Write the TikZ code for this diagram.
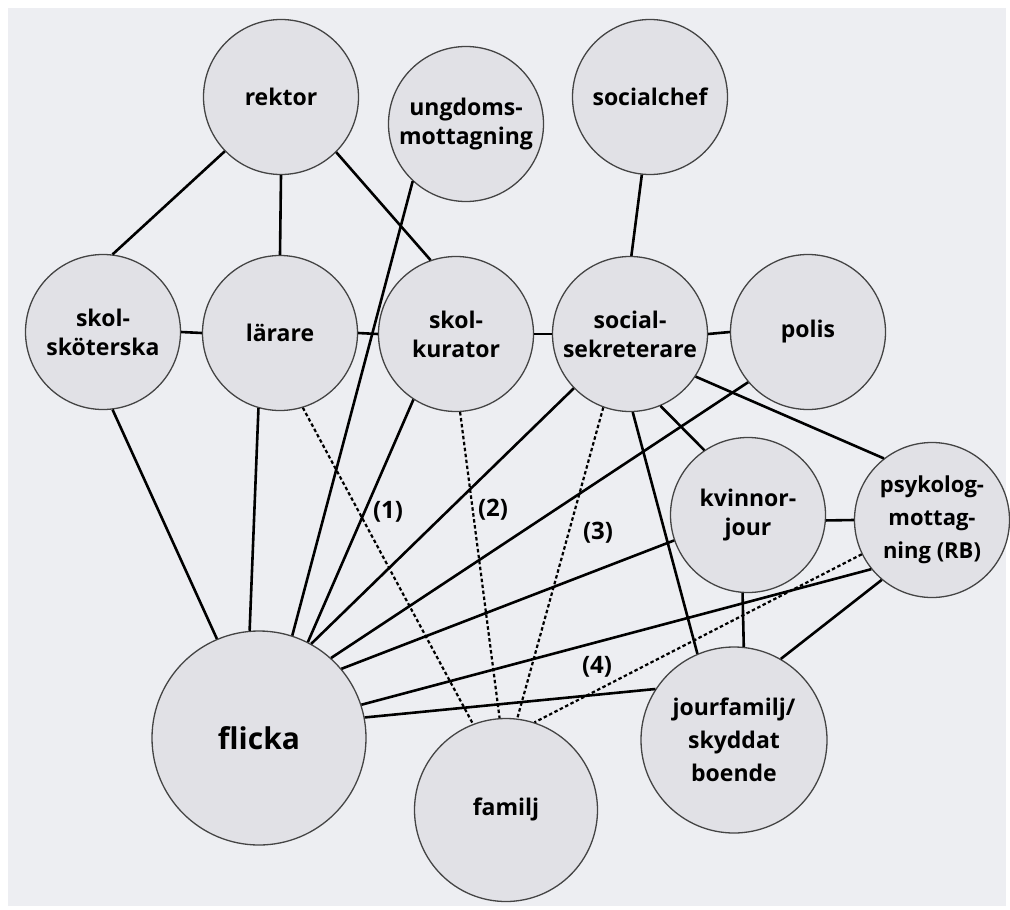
\documentclass[tikz,border=0pt]{standalone}
\usepackage{fontspec}
\setmainfont{Open Sans}
\definecolor{bgc}{HTML}{EDEEF2}
\definecolor{cfill}{HTML}{E1E1E6}
\definecolor{cline}{HTML}{444444}
\tikzset{
  org/.style={circle, draw=cline, line width=1.3pt, fill=cfill, inner sep=0pt,
    minimum size=#1, align=center, font=\bfseries\fontsize{23}{29}\selectfont},
  org/.default=155pt,
  tie/.style={line width=2.6pt, black},
  weak/.style={line width=2.2pt, black, dash pattern=on 3.5pt off 2.5pt},
  tag/.style={font=\bfseries\fontsize{24}{26}\selectfont, inner sep=0pt}
}
\begin{document}
\begin{tikzpicture}[x=1pt,y=-1pt]
\useasboundingbox (0,0) rectangle (1010,910);
\fill[white] (0,0) rectangle (1010,910);
\fill[bgc] (8,8) rectangle (1006,906);
% nodes
\node[org] (rek) at (281,97) {rektor};
\node[org] (ung) at (466,124) {ungdoms-\\mottagning};
\node[org] (soc) at (650,97) {socialchef};
\node[org] (sks) at (103,332) {skol-\\sköterska};
\node[org] (lar) at (280,333) {lärare};
\node[org] (kur) at (456,334) {skol-\\kurator};
\node[org] (sos) at (630,334) {social-\\sekreterare};
\node[org] (pol) at (808,332) {polis};
\node[org] (kvi) at (748,515) {kvinnor-\\jour};
\node[org, font=\bfseries\fontsize{22}{33}\selectfont] (psy) at (932,520) {psykolog-\\mottag-\\ning (RB)};
\node[org=186pt, font=\bfseries\fontsize{23}{33}\selectfont] (jou) at (734,740) {jourfamilj/\\skyddat\\boende};
\node[org=183pt] (fam) at (506,810) {\raisebox{6pt}{familj}};
\node[org=214pt, font=\bfseries\fontsize{30}{34}\selectfont] (fli) at (259,738) {flicka};
% solid ties
\draw[tie] (rek.224) -- (sks.83);
\draw[tie] (rek.270) -- (lar.90);
\draw[tie] (rek.315) -- (kur.109);
\draw[tie] (sks.0) -- (lar.180);
\draw[tie] (lar.0) -- (kur.180);
\draw[tie] (kur.0) -- (sos.180);
\draw[tie] (sos.0) -- (pol.180);
\draw[tie] (soc.264) -- (sos.89);
\draw[tie] (sks.277) -- (fli.113);
\draw[tie] (lar.254) -- (fli.95);
\draw[tie] (ung.227) -- (fli.72);
\draw[tie] (kur.237) -- (fli.63);
\draw[tie] (sos.224) -- (fli.61);
\draw[tie] (pol.220) -- (fli.48);
\draw[tie] (kvi.199) -- (fli.40);
\draw[tie] (psy.219) -- (fli.18);
\draw[tie] (jou.147) -- (fli.11);
\draw[tie] (sos.293) -- (kvi.124);
\draw[tie] (sos.327) -- (psy.128);
\draw[tie] (sos.272) -- (jou.113);
\draw[tie] (kvi.356) -- (psy.180);
\draw[tie] (kvi.266) -- (jou.84);
\draw[tie] (psy.230) -- (jou.60);
% dashed ties
\draw[weak] (lar.287) -- (fam.111);
\draw[weak] (kur.273) -- (fam.94);
\draw[weak] (sos.250) -- (fam.83);
\draw[weak] (psy.206) -- (fam.72);
% labels
\node[tag] (t1) at (388,512) {(1)};
\node[tag] (t2) at (493,510) {(2)};
\node[tag] (t3) at (598,533) {(3)};
\node[tag] (t4) at (597,667) {(4)};
\end{tikzpicture}
\end{document}
